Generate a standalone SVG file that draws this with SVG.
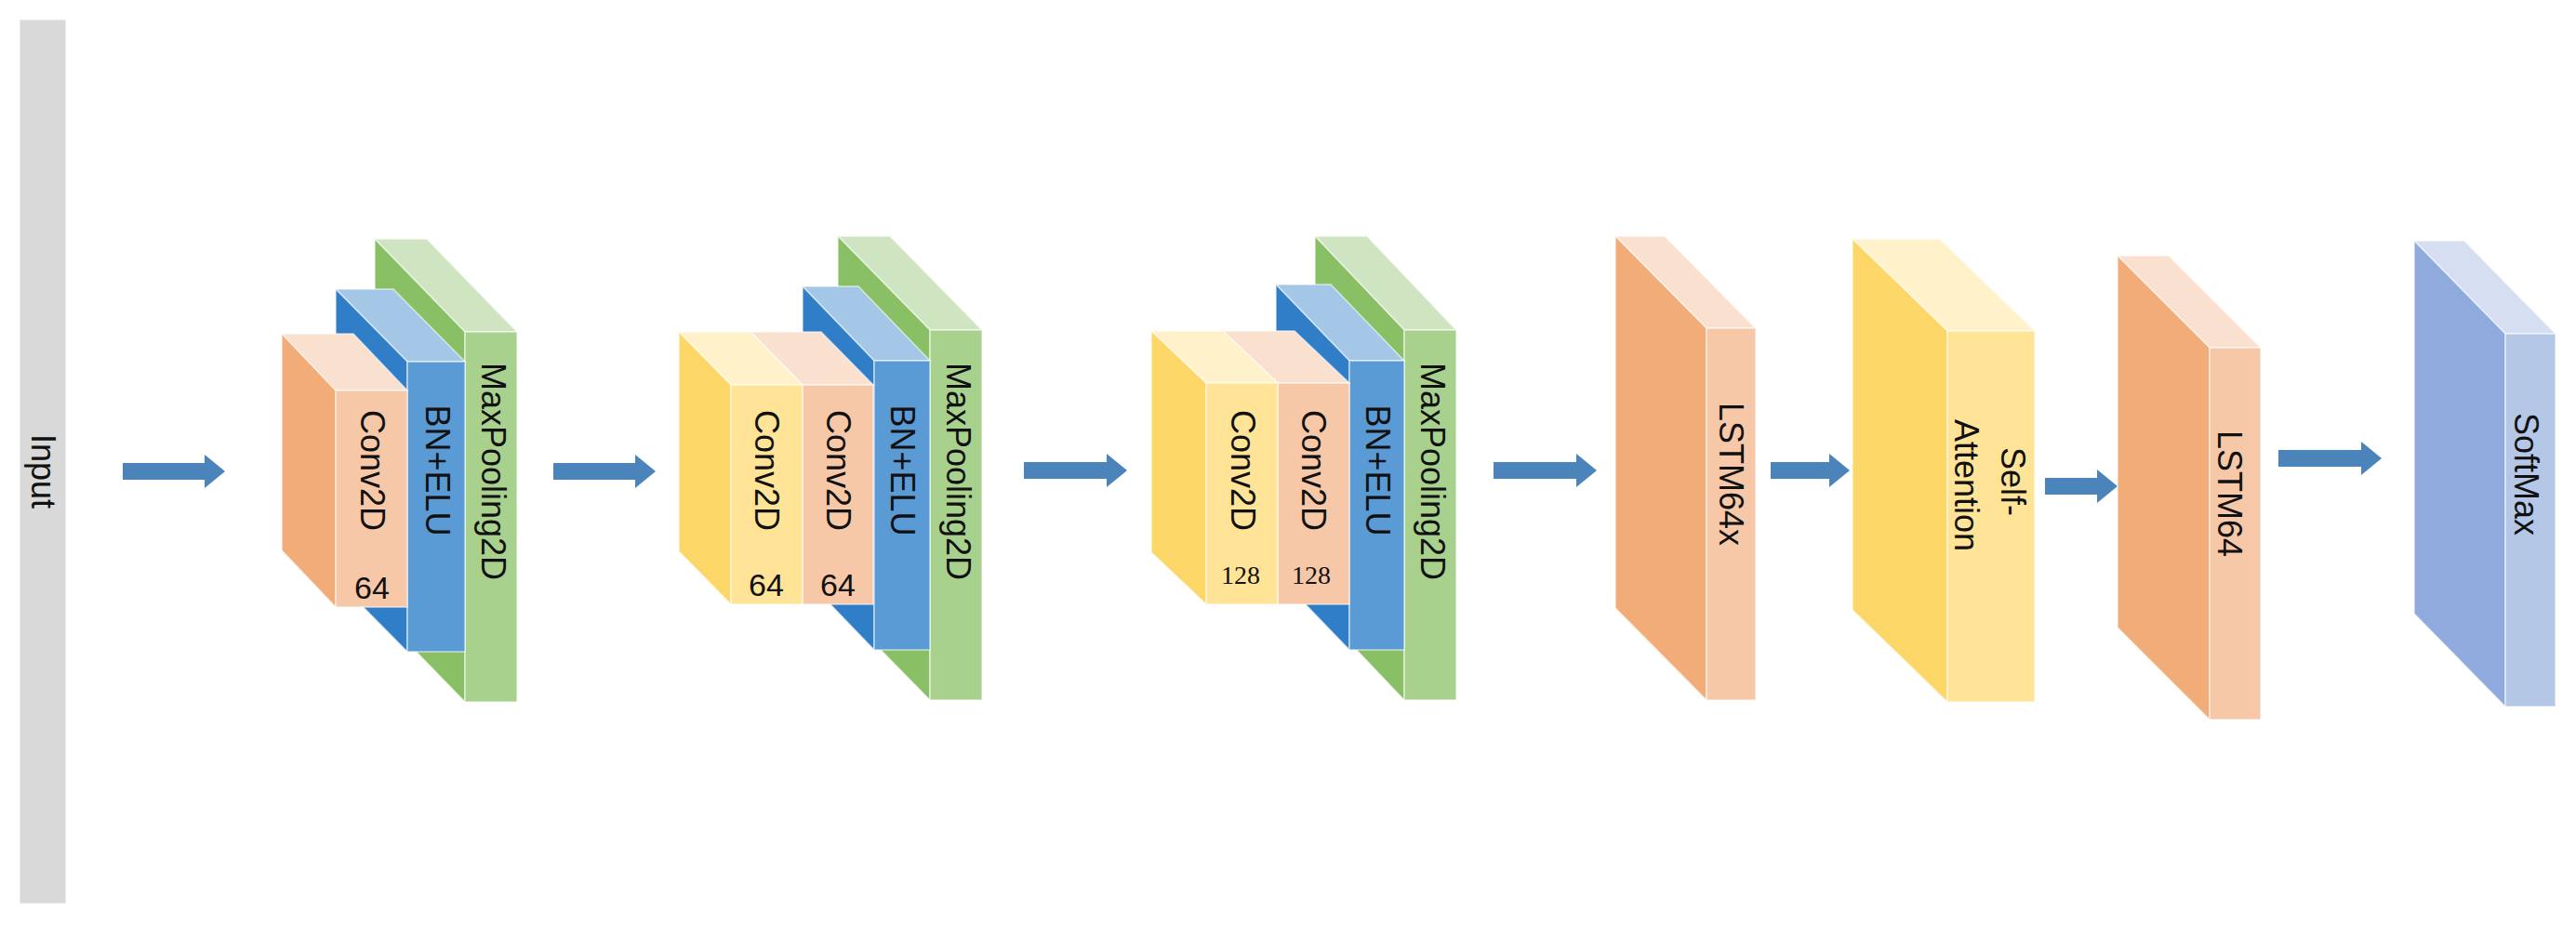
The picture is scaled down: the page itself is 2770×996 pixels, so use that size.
<svg xmlns="http://www.w3.org/2000/svg" width="2770" height="996" viewBox="0 0 2770 996">
<style>
polygon,rect{stroke:#fff;stroke-width:1.5;stroke-opacity:0.6}
.oL{fill:#F1AC78}.oF{fill:#F7C8A8}.oT{fill:#FAE0CF}
.bL{fill:#2F7EC7}.bF{fill:#5B9BD5}.bT{fill:#A5C7E7}
.gL{fill:#89BF65}.gF{fill:#A9D18E}.gT{fill:#CFE4C1}
.yL{fill:#FCD666}.yF{fill:#FFE497}.yT{fill:#FFF1CA}
.sL{fill:#8FAADC}.sF{fill:#B4C7E7}.sT{fill:#D5DFF1}
.arr{fill:#4A84BA;stroke:none}
text{font-family:"Liberation Sans",Arial,sans-serif;font-size:36px;fill:#111;text-anchor:middle;dominant-baseline:central}
.n{font-size:34px}.s{font-size:28px;font-family:"Liberation Serif",serif}
</style>
<rect id="input" x="21" y="21" width="50" height="951" fill="#D9D9D9"/>
<text transform="translate(46,507) rotate(90)">Input</text>

<g id="connectors">
<polygon class="arr" points="132,498 220,498 220,489 242,507 220,525 220,516 132,516"/>
<polygon class="arr" points="595,498 683,498 683,489 705,507 683,525 683,516 595,516"/>
<polygon class="arr" points="1101,497 1190,497 1190,488 1212,506 1190,524 1190,515 1101,515"/>
<polygon class="arr" points="1606,497 1695,497 1695,488 1717,506 1695,524 1695,515 1606,515"/>
<polygon class="arr" points="1904,497 1967,497 1967,488 1989,506 1967,524 1967,515 1904,515"/>
<polygon class="arr" points="2199,514 2255,514 2255,505 2277,523 2255,541 2255,532 2199,532"/>
<polygon class="arr" points="2450,484 2539,484 2539,475 2561,493 2539,511 2539,502 2450,502"/>
</g>

<g id="block1">
<g id="b1-pool"><polygon class="gT" points="403,257 459,257 556,357 500,357"/><polygon class="gL" points="403,257 500,357 500,755 403,655"/><rect class="gF" x="500" y="357" width="56" height="398"/></g>
<g id="b1-bn"><polygon class="bT" points="361,311 423,311 500,389 438,389"/><polygon class="bL" points="361,311 438,389 438,701 361,623"/><rect class="bF" x="438" y="389" width="62" height="312"/></g>
<g id="b1-conv"><polygon class="oT" points="303,359 380,359 438,420 361,420"/><polygon class="oL" points="303,359 361,420 361,653 303,592"/><rect class="oF" x="361" y="420" width="77" height="233"/></g>
<text transform="translate(400,506) rotate(90)">Conv2D</text>
<text class="n" x="400" y="632">64</text>
<text transform="translate(470,506) rotate(90)">BN+ELU</text>
<text transform="translate(530,507) rotate(90)">MaxPooling2D</text>
</g>

<g id="block2">
<g id="b2-pool"><polygon class="gT" points="901,254 957,254 1056,355 1000,355"/><polygon class="gL" points="901,254 1000,355 1000,753 901,652"/><rect class="gF" x="1000" y="355" width="56" height="398"/></g>
<g id="b2-bn"><polygon class="bT" points="863,308 923,308 1000,388 940,388"/><polygon class="bL" points="863,308 940,388 940,699 863,619"/><rect class="bF" x="940" y="388" width="60" height="311"/></g>
<g id="b2-conv2"><polygon class="oT" points="807,357 883,357 939,414 863,414"/><rect class="oF" x="863" y="414" width="76" height="236"/></g>
<g id="b2-conv1"><polygon class="yT" points="730,357 807,357 863,414 786,414"/><polygon class="yL" points="730,357 786,414 786,650 730,593"/><rect class="yF" x="786" y="414" width="77" height="236"/></g>
<text transform="translate(824,506) rotate(90)">Conv2D</text>
<text transform="translate(901,506) rotate(90)">Conv2D</text>
<text class="n" x="824" y="629">64</text>
<text class="n" x="901" y="629">64</text>
<text transform="translate(970,506) rotate(90)">BN+ELU</text>
<text transform="translate(1030,507) rotate(90)">MaxPooling2D</text>
</g>

<g id="block3">
<g id="b3-pool"><polygon class="gT" points="1414,254 1470,254 1566,355 1510,355"/><polygon class="gL" points="1414,254 1510,355 1510,753 1414,652"/><rect class="gF" x="1510" y="355" width="56" height="398"/></g>
<g id="b3-bn"><polygon class="bT" points="1372,306 1431,306 1510,388 1451,388"/><polygon class="bL" points="1372,306 1451,388 1451,699 1372,617"/><rect class="bF" x="1451" y="388" width="59" height="311"/></g>
<g id="b3-conv2"><polygon class="oT" points="1315,356 1392,356 1451,412 1374,412"/><rect class="oF" x="1374" y="412" width="77" height="238"/></g>
<g id="b3-conv1"><polygon class="yT" points="1238,356 1315,356 1374,412 1297,412"/><polygon class="yL" points="1238,356 1297,412 1297,650 1238,594"/><rect class="yF" x="1297" y="412" width="77" height="238"/></g>
<text transform="translate(1336,506) rotate(90)">Conv2D</text>
<text transform="translate(1412,506) rotate(90)">Conv2D</text>
<text class="s" x="1334" y="618">128</text>
<text class="s" x="1410" y="618">128</text>
<text transform="translate(1481,506) rotate(90)">BN+ELU</text>
<text transform="translate(1540,507) rotate(90)">MaxPooling2D</text>
</g>

<g id="lstm1">
<polygon class="oT" points="1737,254 1790,254 1888,353 1835,353"/><polygon class="oL" points="1737,254 1835,353 1835,753 1737,654"/><rect class="oF" x="1835" y="353" width="53" height="400"/>
<text transform="translate(1861,510) rotate(90)">LSTM64x</text>
</g>
<g id="attention">
<polygon class="yT" points="1992,257 2086,257 2188,356 2094,356"/><polygon class="yL" points="1992,257 2094,356 2094,755 1992,656"/><rect class="yF" x="2094" y="356" width="94" height="399"/>
<text transform="translate(2164,518) rotate(90)">Self-</text>
<text transform="translate(2114,522) rotate(90)">Attention</text>
</g>
<g id="lstm2">
<polygon class="oT" points="2277,275 2332,275 2431,374 2376,374"/><polygon class="oL" points="2277,275 2376,374 2376,774 2277,675"/><rect class="oF" x="2376" y="374" width="55" height="400"/>
<text transform="translate(2397,531) rotate(90)">LSTM64</text>
</g>
<g id="softmax">
<polygon class="sT" points="2596,259 2650,259 2748,359 2694,359"/><polygon class="sL" points="2596,259 2694,359 2694,760 2596,660"/><rect class="sF" x="2694" y="359" width="54" height="401"/>
<text transform="translate(2716,510) rotate(90)">SoftMax</text>
</g>
</svg>
